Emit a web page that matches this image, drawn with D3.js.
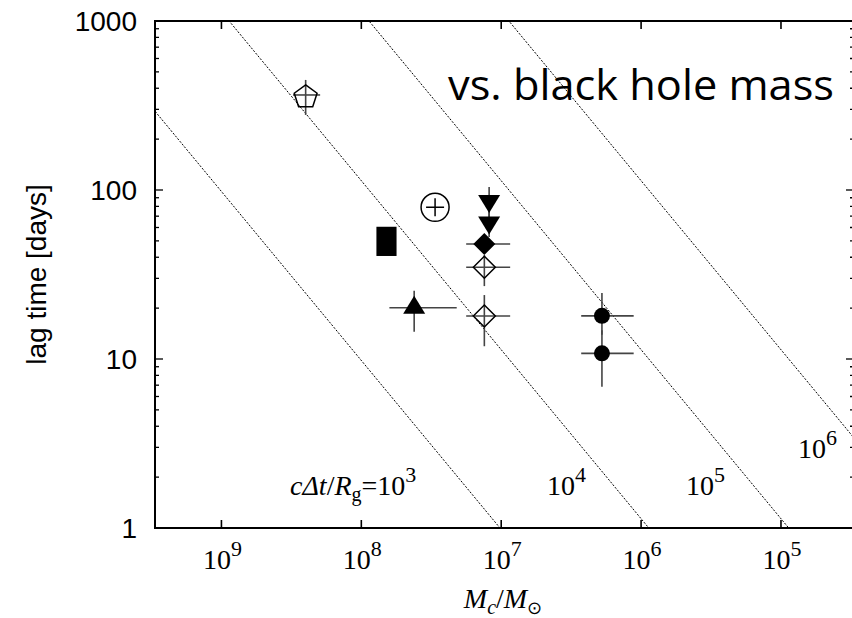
<!DOCTYPE html>
<html><head><meta charset="utf-8">
<script src="https://cdn.jsdelivr.net/npm/d3@7"></script>
<style>body{margin:0;background:#fff}svg{display:block}</style>
</head><body>
<svg id="c" width="852" height="618"></svg>
<script>
// ---- data ----
const massDomain = [2.985e9, 3.006e4];
const lagDomain = [1, 1000];
const massTicks = [1e9, 1e8, 1e7, 1e6, 1e5];
const massTickExp = ["9", "8", "7", "6", "5"];
const lagTicks = [1, 10, 100, 1000];
const lagTickLabels = ["1", "10", "100", "1000"];
// guide lines cΔt/Rg = const, lag (days) at M = 1e8 Msun
const guideExp = ["3", "4", "5", "6"];
const guideLagAt1e8 = [9.8, 113.5, 1135, 11350];
// points: [mass, lag, massLo, massHi, lagLo, lagHi, symbol]
const points = [
  [2.5e8, 365, 1.97e8, 3.08e8, 278, 448, "pentagon"],
  [2.97e7, 79, null, null, null, null, "circleplus"],
  [1.22e7, 83.8, null, null, 63, 104, "tridown"],
  [1.22e7, 62.5, null, null, 52.7, 82, "tridown"],
  [1.32e7, 47.9, 8.63e6, 1.78e7, null, null, "diamondfill"],
  [1.32e7, 34.9, 8.63e6, 1.78e7, 27.0, 41.2, "diamondopen"],
  [1.32e7, 17.97, 8.63e6, 1.78e7, 11.9, 23.9, "diamondopen"],
  [4.19e7, 20.1, 2.08e7, 6.3e7, 14.5, 25.3, "triup"],
  [1.905e6, 18, 1.13e6, 2.68e6, 13.9, 24.6, "circlefill"],
  [1.905e6, 10.8, 1.13e6, 2.68e6, 6.86, 14.8, "circlefill"]
];
// box: [massHi, massLo, lagLo, lagHi]
const boxes = [[7.8e7, 5.6e7, 40.7, 60.6]];

// ---- layout ----
const L = 155, R = 854, T = 21, B = 528;
const svg = d3.select("#c");
const x = d3.scaleLog().domain(massDomain).range([L, R]);
const y = d3.scaleLog().domain(lagDomain).range([B, T]);

svg.append("defs").append("clipPath").attr("id", "clip")
  .append("rect").attr("x", L).attr("y", T).attr("width", R - L).attr("height", B - T);

// guide lines
const gl = svg.append("g").attr("clip-path", "url(#clip)");
guideLagAt1e8.forEach(g => {
  const ms = [massDomain[0] * 3, massDomain[1] / 3];
  gl.append("path")
    .attr("d", d3.line().x(m => x(m)).y(m => y(g * m / 1e8))(ms))
    .attr("fill", "none").attr("stroke", "#000").attr("stroke-width", 1)
    .attr("stroke-dasharray", "2,1.5");
});

// axes (ticks only; frame drawn separately)
const tickLen = 8, minorLen = 4;
const ax = svg.append("g");
massTicks.forEach(m => {
  ax.append("line").attr("x1", x(m)).attr("x2", x(m)).attr("y1", B).attr("y2", B - tickLen).attr("stroke", "#000").attr("stroke-width", 1.6);
  ax.append("line").attr("x1", x(m)).attr("x2", x(m)).attr("y1", T).attr("y2", T + tickLen).attr("stroke", "#000").attr("stroke-width", 1.6);
});
const lagAll = y.ticks();
lagAll.forEach(v => {
  const major = lagTicks.includes(v);
  const len = major ? tickLen : minorLen;
  ax.append("line").attr("x1", L).attr("x2", L + len).attr("y1", y(v)).attr("y2", y(v)).attr("stroke", "#000").attr("stroke-width", 1.3);
  ax.append("line").attr("x1", R).attr("x2", R - len).attr("y1", y(v)).attr("y2", y(v)).attr("stroke", "#000").attr("stroke-width", 1.3);
});
// frame
svg.append("rect").attr("x", L).attr("y", T).attr("width", R - L).attr("height", B - T)
  .attr("fill", "none").attr("stroke", "#000").attr("stroke-width", 2);

// tick labels
lagTicks.forEach((v, i) => {
  svg.append("text").attr("x", 137).attr("y", y(v)).attr("dy", "0.36em")
    .attr("text-anchor", "end").attr("font-family", "Liberation Sans, Arial, sans-serif")
    .attr("font-size", 28).text(lagTickLabels[i]);
});
massTicks.forEach((m, i) => {
  const t = svg.append("text").attr("x", x(m) + 1).attr("y", 569).attr("text-anchor", "middle")
    .attr("font-family", "Liberation Serif, Times New Roman, serif").attr("font-size", 28);
  t.append("tspan").text("10");
  t.append("tspan").attr("dy", -13).attr("font-size", 22).text(massTickExp[i]);
});

// axis titles
svg.append("text").attr("transform", "translate(46," + ((T + B) / 2) + ") rotate(-90)")
  .attr("text-anchor", "middle").attr("font-family", "Liberation Sans, Arial, sans-serif")
  .attr("font-size", 28).text("lag time [days]");
const xt = svg.append("text").attr("x", 503).attr("y", 608).attr("text-anchor", "middle")
  .attr("font-family", "Liberation Serif, Times New Roman, serif").attr("font-size", 28);
xt.append("tspan").attr("font-style", "italic").text("M");
xt.append("tspan").attr("font-style", "italic").attr("font-size", 20).attr("dy", 6).text("c");
xt.append("tspan").attr("dy", -6).text("/");
xt.append("tspan").attr("font-style", "italic").text("M");
xt.append("tspan").attr("font-size", 18).attr("dy", 6).text("\u2299");

// title
svg.append("text").attr("x", 448).attr("y", 100).attr("font-family", "Open Sans, Lato, sans-serif")
  .attr("font-size", 42).attr("textLength", 386).attr("lengthAdjust", "spacingAndGlyphs")
  .text("vs. black hole mass");

// guide labels
const gLabPos = [[290, 495, true], [547, 495, false], [686, 495, false], [798, 458, false]];
guideExp.forEach((e, i) => {
  const p = gLabPos[i];
  const t = svg.append("text").attr("x", p[0]).attr("y", p[1])
    .attr("font-family", "Liberation Serif, Times New Roman, serif").attr("font-size", 28);
  if (p[2]) {
    t.append("tspan").attr("font-style", "italic").text("c\u0394t");
    t.append("tspan").text("/");
    t.append("tspan").attr("font-style", "italic").text("R");
    t.append("tspan").attr("font-size", 20).attr("dy", 6).text("g");
    t.append("tspan").attr("dy", -6).text("=10");
  } else {
    t.append("tspan").text("10");
  }
  t.append("tspan").attr("dy", -13).attr("font-size", 22).text(e);
});

// boxes
boxes.forEach(b => {
  svg.append("rect").attr("x", x(b[0])).attr("y", y(b[3]))
    .attr("width", x(b[1]) - x(b[0])).attr("height", y(b[2]) - y(b[3])).attr("fill", "#000");
});

// error bars
const eb = svg.append("g").attr("stroke", "#444").attr("stroke-width", 1.6);
points.forEach(p => {
  const [m, l, mlo, mhi, llo, lhi] = p;
  if (mlo) eb.append("line").attr("x1", x(mhi)).attr("x2", x(mlo)).attr("y1", y(l)).attr("y2", y(l));
  if (llo) eb.append("line").attr("x1", x(m)).attr("x2", x(m)).attr("y1", y(lhi)).attr("y2", y(llo));
});

// symbols
const sg = svg.append("g");
function poly(pts) { return "M" + pts.map(q => q.join(",")).join("L") + "Z"; }
points.forEach(p => {
  const cx = x(p[0]), cy = y(p[1]), s = p[6];
  if (s === "pentagon") {
    const r = 12, pts = d3.range(5).map(k => { const a = -Math.PI / 2 + k * 2 * Math.PI / 5; return [cx + r * Math.cos(a), cy + 2 + r * Math.sin(a)]; });
    sg.append("path").attr("d", poly(pts)).attr("fill", "none").attr("stroke", "#000").attr("stroke-width", 1.5);
  } else if (s === "circleplus") {
    sg.append("circle").attr("cx", cx).attr("cy", cy).attr("r", 14).attr("fill", "none").attr("stroke", "#000").attr("stroke-width", 1.5);
    sg.append("path").attr("d", `M${cx - 9},${cy}H${cx + 9}M${cx},${cy - 9}V${cy + 9}`).attr("stroke", "#000").attr("stroke-width", 1.5);
  } else if (s === "tridown") {
    sg.append("path").attr("d", poly([[cx - 11, cy - 8], [cx + 11, cy - 8], [cx, cy + 10]])).attr("fill", "#000");
  } else if (s === "triup") {
    sg.append("path").attr("d", poly([[cx - 11, cy + 6], [cx + 11, cy + 6], [cx, cy - 12]])).attr("fill", "#000");
  } else if (s === "diamondfill") {
    sg.append("path").attr("d", poly([[cx, cy - 11], [cx + 11, cy], [cx, cy + 11], [cx - 11, cy]])).attr("fill", "#000");
  } else if (s === "diamondopen") {
    sg.append("path").attr("d", poly([[cx, cy - 11], [cx + 11, cy], [cx, cy + 11], [cx - 11, cy]])).attr("fill", "none").attr("stroke", "#000").attr("stroke-width", 1.5);
  } else if (s === "circlefill") {
    sg.append("circle").attr("cx", cx).attr("cy", cy).attr("r", 8).attr("fill", "#000");
  }
});
</script>
</body></html>
